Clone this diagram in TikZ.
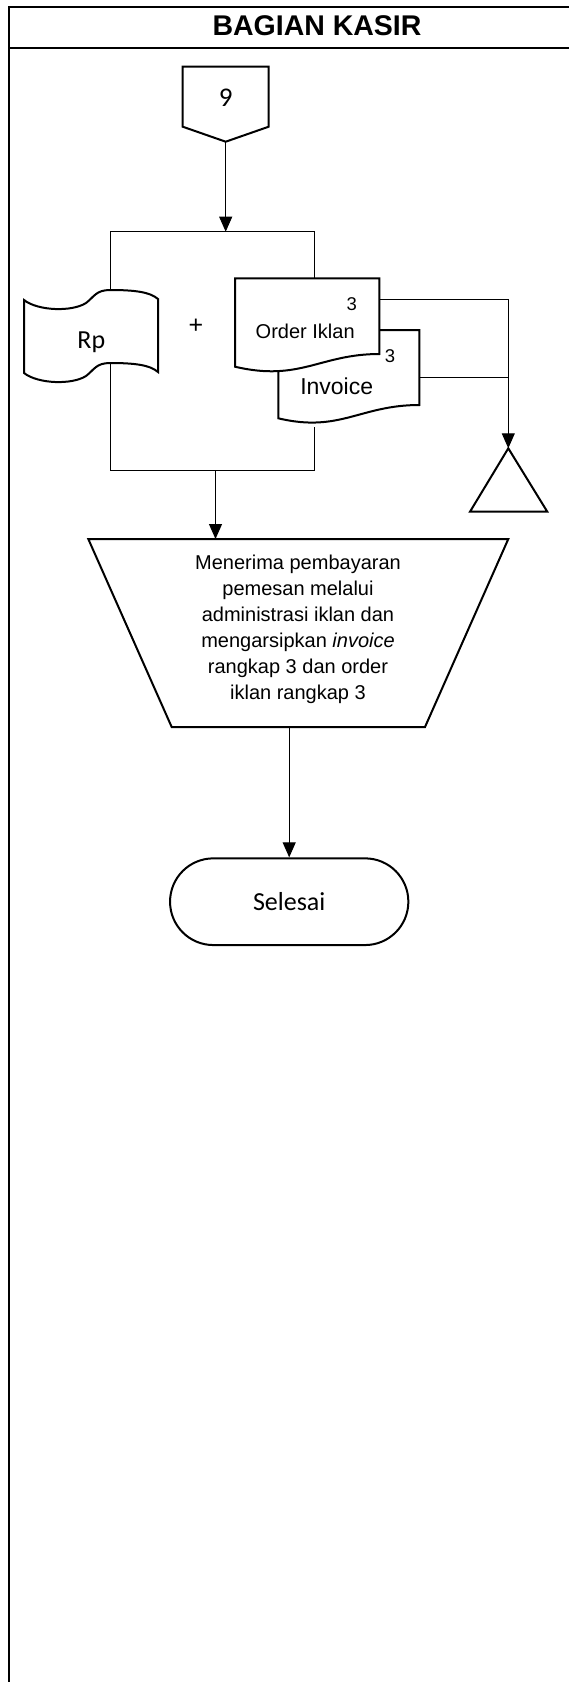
\documentclass[tikz,border=0pt]{standalone}
\usepackage{fontspec}
\setmainfont{Liberation Sans}
\newfontfamily\calfont{Carlito}
\usetikzlibrary{arrows.meta}
\begin{document}
\begin{tikzpicture}[x=1pt,y=-1pt,
  shapeline/.style={line width=2pt, line join=miter},
  flow/.style={line width=1pt},
  arrowflow/.style={line width=1pt, -{Triangle[length=15pt,width=13pt]}},
  frameline/.style={line width=2.2pt},
  txt/.style={inner sep=0pt, outer sep=0pt}]
\useasboundingbox (0,0) rectangle (568,1682);
\fill[white] (0,0) rectangle (568,1682);

% swimlane frame and header
\draw[frameline] (9,1684) -- (9,7.3) -- (570,7.3);
\draw[frameline] (9,47.7) -- (570,47.7);
\node[txt, font=\bfseries\fontsize{28.5}{30}\selectfont] (title) at (317,26) {BAGIAN KASIR};

% off-page connector 9
\draw[shapeline] (182.7,66.7) -- (268.7,66.7) -- (268.7,126.7) -- (225.7,141.7) -- (182.7,126.7) -- cycle;
\coordinate (c9-tip) at (225.7,141.7);
\node[txt, font=\calfont\fontsize{27}{30}\selectfont] (c9) at (225.7,97.5) {9};

% bracket points
\coordinate (brk-top) at (225.7,231.7);
\coordinate (brk-tl) at (110,231.7);
\coordinate (brk-tr) at (314.3,231.7);
\coordinate (rp-top) at (110,290);
\coordinate (ord-top) at (314.3,278.3);
\coordinate (rp-bot) at (110,364);
\coordinate (brk-bl) at (110,470.7);
\coordinate (brk-br) at (314.3,470.7);
\coordinate (inv-gap) at (314.3,427.3);
\coordinate (brk-bot) at (215.5,470.7);

\draw[arrowflow] (c9-tip) -- (brk-top);
\draw[flow] (rp-top) -- (brk-tl) -- (brk-tr) -- (ord-top);
\draw[flow] (rp-bot) -- (brk-bl) -- (brk-br) -- (inv-gap);

% money (punched tape)
\draw[shapeline, fill=white]
  (24,300) .. controls (38,311) and (72,312) .. (86,303)
  .. controls (94,297) and (96,290) .. (110,290)
  .. controls (135,290) and (150,292) .. (158,299)
  -- (158,372)
  .. controls (150,365) and (135,363) .. (110,363)
  .. controls (96,363) and (94,370) .. (86,376)
  .. controls (72,385) and (38,384) .. (24,373) -- cycle;
\node[txt, font=\calfont\fontsize{26}{30}\selectfont, anchor=base] (rp) at (91.3,348.3) {Rp};

\node[txt, font=\fontsize{25}{28}\selectfont] (plus) at (196,326.7) {+};

% invoice document (behind)
\draw[shapeline, fill=white]
  (278.3,330) -- (419.3,330) -- (419.3,405)
  .. controls (360,405) and (340,433) .. (278.3,418.3) -- cycle;
\node[txt, font=\fontsize{18.5}{22}\selectfont, anchor=base] (inv-n) at (390,362) {3};
\node[txt, font=\fontsize{23}{26}\selectfont, anchor=base] (inv) at (336.7,394) {Invoice};

% order document (front)
\draw[shapeline, fill=white]
  (235,278.3) -- (379.3,278.3) -- (379.3,354)
  .. controls (320,354) and (300,382) .. (235,366.7) -- cycle;
\node[txt, font=\fontsize{18.5}{22}\selectfont, anchor=base] (ord-n) at (351.7,310) {3};
\node[txt, font=\fontsize{20}{24}\selectfont, anchor=base] (ord) at (305.2,338.3) {Order Iklan};

% archive
\coordinate (ord-east) at (379.3,299.3);
\coordinate (inv-east) at (419.3,377.3);
\coordinate (inv-join) at (508.3,377.3);
\coordinate (tri-apex) at (508.3,448.3);
\draw[flow] (inv-east) -- (inv-join);
\draw[arrowflow] (ord-east) -| (tri-apex);
\draw[shapeline] (tri-apex) -- (547.3,511.7) -- (470,511.7) -- cycle;

% manual process
\coordinate (proc-top) at (215.5,539);
\coordinate (proc-bot) at (289.2,727);
\draw[arrowflow] (brk-bot) -- (proc-top);
\draw[shapeline] (88.3,539) -- (508.3,539) -- (425,727) -- (171.7,727) -- cycle;
\node[txt, align=center, font=\fontsize{20}{26}\selectfont] (proc) at (298,629)
  {Menerima pembayaran\\pemesan melalui\\administrasi iklan dan\\mengarsipkan \textit{invoice}\\rangkap 3 dan order\\iklan rangkap 3};

% terminator
\node[draw, shapeline, rounded corners=43.3pt, minimum width=238.3pt, minimum height=86.7pt,
  inner sep=0pt, font=\calfont\fontsize{26}{30}\selectfont] (selesai) at (289.2,901.7) {Selesai};
\draw[arrowflow] (proc-bot) -- (selesai.north);
\end{tikzpicture}
\end{document}
